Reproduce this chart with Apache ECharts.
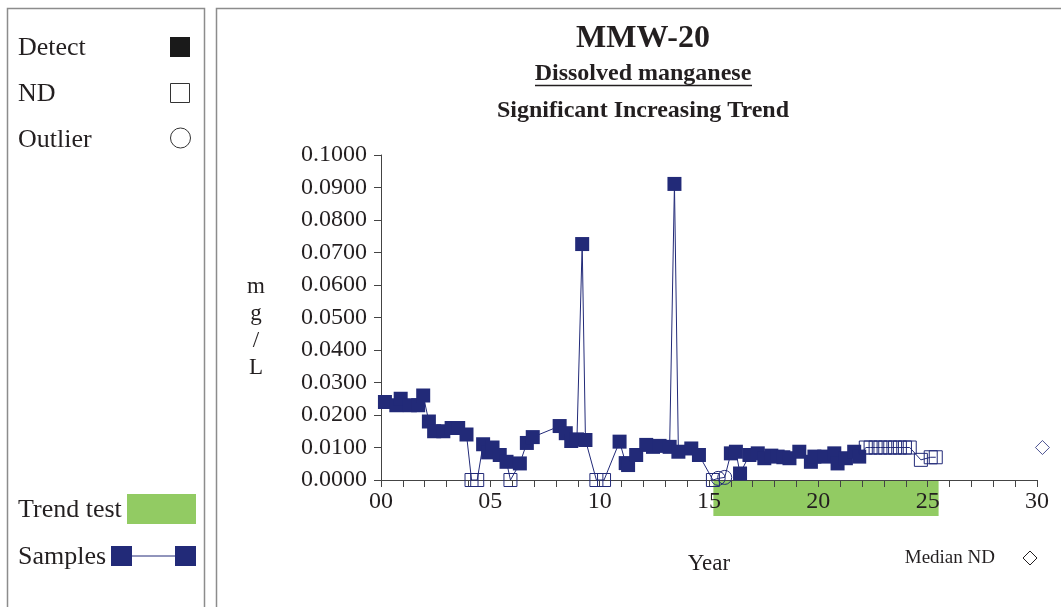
<!DOCTYPE html>
<html>
<head>
<meta charset="utf-8">
<script src="https://cdn.jsdelivr.net/npm/echarts@6/dist/echarts.min.js"></script>
<style>
  html, body { margin: 0; padding: 0; background: #fff; }
  #main { width: 1061px; height: 607px; }
</style>
</head>
<body>
<div id="main"></div>
<script>
// 颜色和字体
const NAVY = '#222a78';
const GREEN = '#92cb63';
const INK = '#231f20';
const FONT = '"Liberation Serif", "Times New Roman", serif';

// 检出值 (年, mg/L)
const detectYears = [
  0.18, 0.70, 0.90, 1.32, 1.70, 1.93, 2.19, 2.43, 2.85, 3.23, 3.53, 3.91,
  4.67, 4.90, 5.10, 5.43, 5.74, 6.35, 6.67, 6.94,
  8.17, 8.45, 8.70, 8.96, 9.20, 9.35,
  10.91, 11.19, 11.30, 11.67, 12.13, 12.44, 12.74, 13.20, 13.42, 13.60, 14.19, 14.54,
  16.00, 16.23, 16.42, 16.85, 17.23, 17.53, 17.85, 18.14, 18.40, 18.68, 19.13, 19.66,
  19.82, 20.27, 20.73, 20.88, 21.26, 21.64, 21.87
];
const detectValues = [
  0.0240, 0.0230, 0.0250, 0.0230, 0.0230, 0.0260, 0.0180, 0.0150, 0.0150, 0.0160, 0.0160, 0.0140,
  0.0110, 0.0085, 0.0100, 0.0077, 0.0056, 0.0051, 0.0114, 0.0132,
  0.0166, 0.0144, 0.0120, 0.0125, 0.0726, 0.0123,
  0.0118, 0.0052, 0.0046, 0.0077, 0.0108, 0.0102, 0.0105, 0.0102, 0.0911, 0.0087, 0.0097, 0.0077,
  0.0082, 0.0087, 0.0020, 0.0077, 0.0082, 0.0067, 0.0075, 0.0072, 0.0070, 0.0067, 0.0087, 0.0056,
  0.0072, 0.0072, 0.0082, 0.0051, 0.0067, 0.0087, 0.0072
];

// 未检出 (ND)
const ndYears = [
  4.14, 4.40, 5.92, 9.85, 10.20, 15.18,
  22.17, 22.39, 22.62, 22.84, 23.06, 23.29, 23.51, 23.73, 23.96, 24.18,
  24.69, 25.14, 25.37
];
const ndValues = [
  0, 0, 0, 0, 0, 0,
  0.010, 0.010, 0.010, 0.010, 0.010, 0.010, 0.010, 0.010, 0.010, 0.010,
  0.0062, 0.0070, 0.0070
];

// 异常值
const outlierYears = [15.42, 15.72];
const outlierValues = [0.0005, 0.0008];

// ND 中位数
const medianNdYear = 30.25;
const medianNdValue = 0.010;

// 趋势检验区间
const trendRange = [15.2, 25.5];

const yearLabels = ['00', '05', '10', '15', '20', '25', '30'];

// 按时间合并所有样本，用同一条线连起来
const samples = [];
detectYears.forEach((y, i) => samples.push({ kind: 'detect', x: y, v: detectValues[i] }));
ndYears.forEach((y, i) => samples.push({ kind: 'nd', x: y, v: ndValues[i] }));
outlierYears.forEach((y, i) => samples.push({ kind: 'outlier', x: y, v: outlierValues[i] }));
samples.sort((a, b) => a.x - b.x);

const sampleData = samples.map(s => {
  if (s.kind === 'detect') {
    return { value: [s.x, s.v], symbol: 'rect', symbolSize: 14, itemStyle: { color: NAVY, borderWidth: 0 } };
  }
  if (s.kind === 'nd') {
    return { value: [s.x, s.v], symbol: 'rect', symbolSize: 13, itemStyle: { color: 'rgba(0,0,0,0)', borderColor: NAVY, borderWidth: 1 } };
  }
  return { value: [s.x, s.v], symbol: 'circle', symbolSize: 14, itemStyle: { color: 'rgba(0,0,0,0)', borderColor: NAVY, borderWidth: 1 } };
});

const chart = echarts.init(document.getElementById('main'));

const axisFont = { fontFamily: FONT, fontSize: 24, color: INK };

chart.setOption({
  animation: false,
  grid: { left: 381, top: 155, width: 656, height: 325, containLabel: false },
  xAxis: {
    type: 'value',
    min: 0,
    max: 30,
    interval: 1,
    axisLine: { lineStyle: { color: '#444', width: 1 } },
    axisTick: { length: 7, lineStyle: { color: '#444' } },
    splitLine: { show: false },
    axisLabel: {
      ...axisFont,
      margin: 10,
      formatter: v => (v % 5 === 0 ? yearLabels[v / 5] : '')
    }
  },
  yAxis: {
    type: 'value',
    min: 0,
    max: 0.1,
    interval: 0.01,
    axisLine: { show: true, lineStyle: { color: '#444', width: 1 } },
    axisTick: { show: true, length: 7, lineStyle: { color: '#444' } },
    splitLine: { show: false },
    axisLabel: { ...axisFont, margin: 14, padding: [5, 0, 0, 0], formatter: v => v.toFixed(4) }
  },
  series: [
    {
      name: 'Samples',
      type: 'line',
      data: sampleData,
      showAllSymbol: true,
      clip: false,
      lineStyle: { color: NAVY, width: 1 },
      emphasis: { disabled: true },
      z: 3
    },
    {
      name: 'Median ND',
      type: 'scatter',
      data: [[medianNdYear, medianNdValue]],
      symbol: 'diamond',
      symbolSize: 14,
      clip: false,
      itemStyle: { color: 'rgba(0,0,0,0)', borderColor: NAVY, borderWidth: 1 },
      z: 3
    }
  ]
});

// 趋势检验的绿色条，用坐标轴换算位置
const tx0 = chart.convertToPixel({ xAxisIndex: 0 }, trendRange[0]);
const tx1 = chart.convertToPixel({ xAxisIndex: 0 }, trendRange[1]);
const axisY = chart.convertToPixel({ yAxisIndex: 0 }, 0);

const txt = (x, y, text, opt = {}) => ({
  type: 'text',
  x, y,
  silent: true,
  style: {
    text,
    font: `${opt.bold ? 'bold ' : ''}${opt.size || 22}px ${FONT}`,
    fill: INK,
    align: opt.align || 'left',
    verticalAlign: 'middle',
    lineHeight: opt.lineHeight
  }
});

chart.setOption({
  graphic: [
    // 外框
    { type: 'rect', z: -5, silent: true, shape: { x: 7.5, y: 8.5, width: 197, height: 640 }, style: { fill: 'none', stroke: '#8c8c8c', lineWidth: 1.5 } },
    { type: 'rect', z: -5, silent: true, shape: { x: 216.5, y: 8.5, width: 900, height: 640 }, style: { fill: 'none', stroke: '#8c8c8c', lineWidth: 1.5 } },

    // 绿色趋势条
    { type: 'rect', z: -1, silent: true, shape: { x: tx0, y: axisY + 1, width: tx1 - tx0, height: 35 }, style: { fill: GREEN } },

    // 标题
    txt(643, 39, 'MMW-20', { bold: true, size: 32, align: 'center' }),
    txt(643, 74, 'Dissolved manganese', { bold: true, size: 24, align: 'center' }),
    { type: 'line', silent: true, shape: { x1: 535, y1: 85.5, x2: 752, y2: 85.5 }, style: { stroke: INK, lineWidth: 1.5 } },
    txt(643, 111, 'Significant Increasing Trend', { bold: true, size: 24, align: 'center' }),

    // 坐标轴标题
    { type: 'text', x: 256, y: 327, silent: true, style: { text: 'm\ng\n/\nL', font: `23px ${FONT}`, fill: INK, align: 'center', verticalAlign: 'middle', lineHeight: 27 } },
    txt(709, 564, 'Year', { size: 23, align: 'center' }),
    txt(995, 558, 'Median ND', { size: 19, align: 'right' }),
    { type: 'polygon', silent: true, shape: { points: [[1030, 551], [1037, 558], [1030, 565], [1023, 558]] }, style: { fill: 'none', stroke: INK, lineWidth: 1 } },

    // 左侧图例
    txt(18, 48, 'Detect', { size: 26 }),
    { type: 'rect', silent: true, shape: { x: 170, y: 37, width: 20, height: 20 }, style: { fill: '#1a1a1a' } },
    txt(18, 94, 'ND', { size: 26 }),
    { type: 'rect', silent: true, shape: { x: 170.5, y: 83.5, width: 19, height: 19 }, style: { fill: 'none', stroke: '#333', lineWidth: 1 } },
    txt(18, 140, 'Outlier', { size: 26 }),
    { type: 'circle', silent: true, shape: { cx: 180.5, cy: 138, r: 10 }, style: { fill: 'none', stroke: '#333', lineWidth: 1 } },

    txt(18, 510, 'Trend test', { size: 26 }),
    { type: 'rect', silent: true, shape: { x: 127, y: 494, width: 69, height: 30 }, style: { fill: GREEN } },
    txt(18, 557, 'Samples', { size: 26 }),
    { type: 'line', silent: true, shape: { x1: 131, y1: 556, x2: 175, y2: 556 }, style: { stroke: NAVY, lineWidth: 1 } },
    { type: 'rect', silent: true, shape: { x: 111, y: 546, width: 21, height: 20 }, style: { fill: NAVY } },
    { type: 'rect', silent: true, shape: { x: 175, y: 546, width: 21, height: 20 }, style: { fill: NAVY } }
  ]
});
</script>
</body>
</html>
